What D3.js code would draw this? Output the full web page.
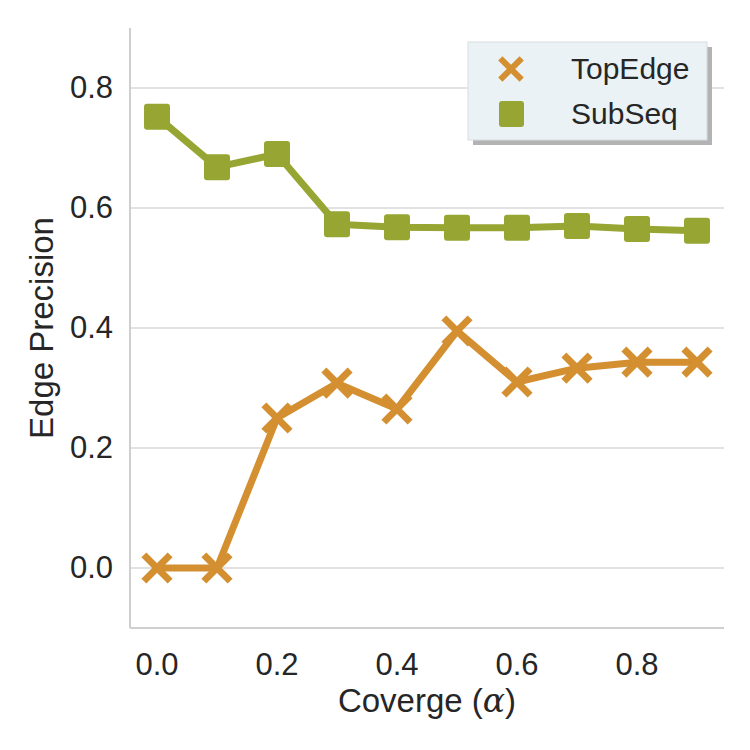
<!DOCTYPE html>
<html>
<head>
<meta charset="utf-8">
<script src="https://cdn.jsdelivr.net/npm/d3@7"></script>
<style>
  body { margin: 0; background: #fff; }
  text { font-family: "Liberation Sans", Arial, sans-serif; }
</style>
</head>
<body>
<svg id="chart" width="750" height="750"></svg>
<script>
var alphas = [0.0, 0.1, 0.2, 0.3, 0.4, 0.5, 0.6, 0.7, 0.8, 0.9];
var topEdge = [0.0, 0.0, 0.25, 0.308, 0.265, 0.395, 0.31, 0.333, 0.343, 0.343];
var subSeq = [0.752, 0.668, 0.69, 0.573, 0.568, 0.567, 0.567, 0.57, 0.565, 0.562];
var xTicks = [0.0, 0.2, 0.4, 0.6, 0.8];
var yTicks = [0.0, 0.2, 0.4, 0.6, 0.8];
var seriesNames = ["TopEdge", "SubSeq"];

var svg = d3.select("#chart");
var pLeft = 130, pRight = 724, pTop = 28, pBottom = 628;

var x = d3.scaleLinear().domain([-0.045, 0.945]).range([pLeft, pRight]);
var y = d3.scaleLinear().domain([-0.1, 0.9]).range([pBottom, pTop]);

var orange = "#d38f30", green = "#97a633", grid = "#d9d9d9", ink = "#262626";

// grid
svg.append("g").selectAll("line")
    .data(yTicks)
    .enter().append("line")
    .attr("x1", pLeft).attr("x2", pRight)
    .attr("y1", function(d){ return y(d); })
    .attr("y2", function(d){ return y(d); })
    .attr("stroke", grid).attr("stroke-width", 1.6);

// spines
svg.append("line").attr("x1", pLeft).attr("x2", pLeft).attr("y1", pTop).attr("y2", pBottom)
    .attr("stroke", "#cfcfcf").attr("stroke-width", 2);
svg.append("line").attr("x1", pLeft).attr("x2", pRight).attr("y1", pBottom).attr("y2", pBottom)
    .attr("stroke", "#cfcfcf").attr("stroke-width", 2);

// tick labels
svg.append("g").selectAll("text")
    .data(yTicks)
    .enter().append("text")
    .attr("x", 113)
    .attr("y", function(d){ return y(d) + 10; })
    .attr("text-anchor", "end")
    .attr("font-size", 31)
    .attr("fill", ink)
    .text(function(d){ return d.toFixed(1); });
svg.append("g").selectAll("text")
    .data(xTicks)
    .enter().append("text")
    .attr("x", function(d){ return x(d); })
    .attr("y", 675)
    .attr("text-anchor", "middle")
    .attr("font-size", 31)
    .attr("fill", ink)
    .text(function(d){ return d.toFixed(1); });

// axis labels
svg.append("text")
    .attr("transform", "translate(53," + (y(0.4)) + ") rotate(-90)")
    .attr("text-anchor", "middle")
    .attr("font-size", 33)
    .attr("fill", ink)
    .text("Edge Precision");
var xl = svg.append("text")
    .attr("x", x(0.45))
    .attr("y", 712)
    .attr("text-anchor", "middle")
    .attr("font-size", 33)
    .attr("fill", ink);
xl.append("tspan").text("Coverge (");
xl.append("tspan").attr("font-family", "DejaVu Serif").attr("font-style", "italic").text("α");
xl.append("tspan").text(")");

var line = d3.line()
    .x(function(d, i){ return x(alphas[i]); })
    .y(function(d){ return y(d); });

// SubSeq
svg.append("path").datum(subSeq)
    .attr("d", line).attr("fill", "none")
    .attr("stroke", green).attr("stroke-width", 7).attr("stroke-linejoin", "round");
var sq = 26;
svg.append("g").selectAll("rect")
    .data(subSeq)
    .enter().append("rect")
    .attr("x", function(d, i){ return x(alphas[i]) - sq/2; })
    .attr("y", function(d){ return y(d) - sq/2; })
    .attr("width", sq).attr("height", sq)
    .attr("rx", 3)
    .attr("fill", green);

// TopEdge
svg.append("path").datum(topEdge)
    .attr("d", line).attr("fill", "none")
    .attr("stroke", orange).attr("stroke-width", 7).attr("stroke-linejoin", "round");
var cross = d3.symbol().type(d3.symbolX).size(450);
svg.append("g").selectAll("path")
    .data(topEdge)
    .enter().append("path")
    .attr("d", cross)
    .attr("transform", function(d, i){ return "translate(" + x(alphas[i]) + "," + y(d) + ")"; })
    .attr("stroke", orange).attr("stroke-width", 7);

// legend
var lg = svg.append("g");
lg.append("rect").attr("x", 473).attr("y", 47).attr("width", 239).attr("height", 98).attr("fill", "#b3b3b3");
lg.append("rect").attr("x", 468).attr("y", 42).attr("width", 239).attr("height", 98)
    .attr("fill", "#eaf2f5").attr("stroke", "#d5dde0").attr("stroke-width", 1);
lg.append("path").attr("d", d3.symbol().type(d3.symbolX).size(300))
    .attr("transform", "translate(511,69)")
    .attr("stroke", orange).attr("stroke-width", 6);
lg.append("rect").attr("x", 499).attr("y", 101).attr("width", 25).attr("height", 26).attr("rx", 3).attr("fill", green);
lg.selectAll("text.lab")
    .data(seriesNames)
    .enter().append("text")
    .attr("x", 571)
    .attr("y", function(d, i){ return 79 + i * 45; })
    .attr("font-size", 30)
    .attr("fill", ink)
    .text(function(d){ return d; });
</script>
</body>
</html>
